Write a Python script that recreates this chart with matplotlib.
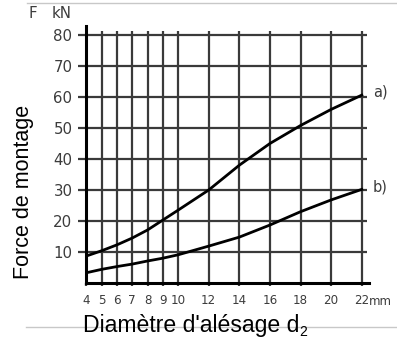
import numpy as np
import matplotlib
matplotlib.use("Agg")
import matplotlib.pyplot as plt
from matplotlib.lines import Line2D

plt.rcParams['font.family'] = ['DejaVu Sans']

# diametre d'alesage (mm) et force de montage (kN)
diametre = [4, 5, 6, 7, 8, 9, 10, 12, 14, 16, 18, 20, 22]
force_a = [8.7, 10.4, 12.3, 14.5, 17.1, 20.3, 23.5, 30.0, 38.0, 45.0, 50.8, 56.0, 60.6]
force_b = [3.3, 4.4, 5.3, 6.1, 7.1, 8.0, 9.1, 11.9, 14.8, 18.7, 23.0, 26.8, 30.2]

x_ticks = [4, 5, 6, 7, 8, 9, 10, 12, 14, 16, 18, 20, 22]
y_ticks = [10, 20, 30, 40, 50, 60, 70, 80]

W, H = 397, 340
fig = plt.figure(figsize=(W / 100, H / 100), dpi=100)
ax = fig.add_axes([86.3 / W, 57 / H, 283.1 / W, 257 / H])
ax.set_xlim(4, 22.5)
ax.set_ylim(0, 82.9)

grid_col = '#3a3a3a'
label_col = '#3c3c3c'
# grille
ax.vlines(x_ticks[1:], 0, 81.3, color=grid_col, lw=1.6, zorder=1)
ax.hlines(y_ticks, 4, 22.35, color=grid_col, lw=1.6, zorder=1)

# courbes
ax.plot(diametre, force_a, color='black', lw=2.0, zorder=3, solid_joinstyle='round')
ax.plot(diametre, force_b, color='black', lw=2.0, zorder=3, solid_joinstyle='round')
ax.annotate('a)', (diametre[-1], force_a[-1]), xytext=(8, 2), textcoords='offset points',
            fontsize=10.5, color=label_col, va='center', annotation_clip=False)
ax.annotate('b)', (diametre[-1], force_b[-1]), xytext=(8, 2), textcoords='offset points',
            fontsize=10.5, color=label_col, va='center', annotation_clip=False)

for s in ['top', 'right']:
    ax.spines[s].set_visible(False)
ax.spines['left'].set_linewidth(2.2)
ax.spines['bottom'].set_linewidth(2.2)

ax.set_xticks(x_ticks)
ax.set_xticklabels([str(t) for t in x_ticks])
ax.set_yticks(y_ticks)
ax.set_yticklabels([str(t) for t in y_ticks])
ax.tick_params(axis='y', length=6, width=1.6, color=grid_col, pad=4, labelsize=10.8, labelcolor=label_col)
ax.tick_params(axis='x', length=2.5, width=1.6, color=grid_col, pad=5.5, labelsize=8.6, labelcolor=label_col)
# unite "mm" collee au dernier repere
ax.annotate('mm', (22, 0), xytext=(5.4, -8.3), textcoords='offset points',
            fontsize=8.6, color=label_col, va='top', annotation_clip=False)

# unite en haut
fig.text(29 / W, 1 - 14 / H, 'F', fontsize=10.8, color=label_col, va='center')
fig.text(52 / W, 1 - 14 / H, 'kN', fontsize=10.8, color=label_col, va='center')

# titres des axes
fig.text(24 / W, 1 - 191.5 / H, 'Force de montage', rotation=90, fontsize=15.5,
         family='Liberation Sans', ha='center', va='center', color='black')
xl = fig.text(83 / W, 1 - 331.7 / H, "Diamètre d'alésage d", fontsize=16.6,
              family='Liberation Sans', ha='left', va='baseline', color='black')
ax.annotate("2", xy=(1, 0), xycoords=xl, xytext=(-0.3, -1.5), textcoords='offset points',
            fontsize=10, family='Liberation Sans', ha='left', va='bottom', color='black',
            annotation_clip=False)

# filets gris
fig.add_artist(Line2D([27 / W, 1], [1 - 3 / H, 1 - 3 / H], transform=fig.transFigure,
                      color='#c8c8c8', lw=1.0, zorder=0))
fig.add_artist(Line2D([26 / W, 1], [1 - 327 / H, 1 - 327 / H], transform=fig.transFigure,
                      color='#c8c8c8', lw=1.0, zorder=0))

fig.savefig('out.png', dpi=100)
